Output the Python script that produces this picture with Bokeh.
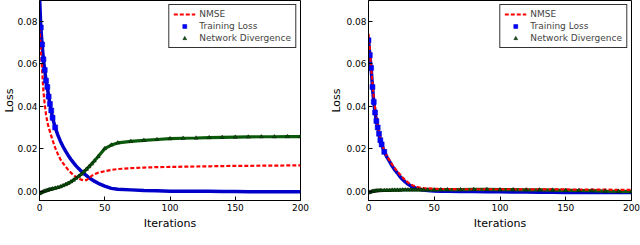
from bokeh.plotting import figure
from bokeh.layouts import row
from bokeh.models import Range1d, Legend, LegendItem, FixedTicker
from bokeh.embed import file_html
from bokeh.resources import INLINE

# ---------------- data ----------------
iters = [0, 1, 2, 3, 4, 5, 6, 7, 8, 9, 10, 12, 14, 16, 18, 20, 22, 24, 26, 28, 30,
         32, 34, 36, 38, 40, 42, 45, 50, 55, 60, 70, 80, 90, 100, 110, 120, 130,
         140, 150, 160, 170, 180, 190, 200]

# (a) left panel
a_nmse = [0.077, 0.066, 0.057, 0.047, 0.041, 0.036, 0.0325, 0.030, 0.028, 0.026, 0.024,
          0.0205, 0.0175, 0.015, 0.0132, 0.0115, 0.0100, 0.0087, 0.0076, 0.0066, 0.0059,
          0.0054, 0.0051, 0.0052, 0.0062, 0.0072, 0.0080, 0.0087, 0.0094, 0.0100, 0.0104,
          0.0108, 0.0111, 0.0113, 0.0114, 0.0115, 0.0116, 0.0117, 0.0118, 0.0119, 0.0119,
          0.0120, 0.0120, 0.0121, 0.0121]
a_train = [0.092, 0.077, 0.069, 0.062, 0.057, 0.052, 0.049, 0.0445, 0.041, 0.038, 0.0345,
           0.030, 0.0265, 0.0235, 0.021, 0.0188, 0.0168, 0.0150, 0.0134, 0.0119, 0.0106,
           0.0094, 0.0083, 0.0073, 0.0063, 0.0055, 0.0047, 0.0037, 0.0024, 0.0013, 0.0009,
           0.0006, 0.0003, 0.0002, 0.0000, 0.0000, -0.0001, -0.0001, -0.0002, -0.0002,
           -0.0003, -0.0003, -0.0003, -0.0003, -0.0003]
a_div = [-0.0012, -0.0008, -0.0005, -0.0002, 0.0000, 0.0002, 0.0004, 0.0006, 0.0008, 0.0009,
         0.0011, 0.0014, 0.0017, 0.0021, 0.0026, 0.0031, 0.0037, 0.0044, 0.0052, 0.0061,
         0.0070, 0.0080, 0.0091, 0.0103, 0.0115, 0.0128, 0.0142, 0.0163, 0.0200, 0.0217,
         0.0227, 0.0234, 0.0239, 0.0243, 0.0247, 0.0249, 0.0250, 0.0252, 0.0253, 0.0254,
         0.0255, 0.0256, 0.0256, 0.0257, 0.0257]

# (b) right panel
b_nmse = [0.074, 0.067, 0.058, 0.051, 0.044, 0.039, 0.035, 0.031, 0.028, 0.025, 0.0225,
          0.0190, 0.0165, 0.0145, 0.0125, 0.0108, 0.0092, 0.0078, 0.0064, 0.0052, 0.0041,
          0.0032, 0.0026, 0.0021, 0.0018, 0.0016, 0.0014, 0.0013, 0.0011, 0.0010, 0.0010,
          0.0009, 0.0009, 0.0009, 0.0009, 0.0009, 0.0008, 0.0008, 0.0008, 0.0008, 0.0007,
          0.0007, 0.0007, 0.0006, 0.0006]
b_train = [0.071, 0.064, 0.058, 0.049, 0.042, 0.037, 0.033, 0.030, 0.027, 0.024, 0.022,
           0.0185, 0.0160, 0.0140, 0.0118, 0.0100, 0.0085, 0.0068, 0.0055, 0.0043, 0.0033,
           0.0025, 0.0019, 0.0014, 0.0010, 0.0007, 0.0005, 0.0003, 0.0001, 0.0000, -0.0001,
           -0.0002, -0.0002, -0.0003, -0.0003, -0.0004, -0.0004, -0.0005, -0.0005, -0.0006,
           -0.0006, -0.0006, -0.0006, -0.0006, -0.0006]
b_div = [-0.0008, -0.0005, -0.0003, -0.0001, 0.0000, 0.0001, 0.0002, 0.0002, 0.0003, 0.0003,
         0.0003, 0.0004, 0.0004, 0.0004, 0.0005, 0.0005, 0.0005, 0.0005, 0.0006, 0.0006,
         0.0006, 0.0006, 0.0006, 0.0006, 0.0006, 0.0006, 0.0006, 0.0006, 0.0006, 0.0007,
         0.0007, 0.0007, 0.0008, 0.0008, 0.0007, 0.0007, 0.0006, 0.0006, 0.0005, 0.0004,
         0.0003, 0.0002, 0.0000, -0.0001, -0.0002]

x_ticks = [0, 50, 100, 150, 200]
y_ticks = [0.00, 0.02, 0.04, 0.06, 0.08]
y_labels = ["0.00", "0.02", "0.04", "0.06", "0.08"]

FONT = "DejaVu Sans"
RED = "#ff0000"
BLUE = "#0000ff"
BLUE_DARK = "#0000c8"
GREEN = "#0b5a0b"


def make_panel(nmse, train, div, width, border_left, border_right, label_standoff):
    p = figure(width=width, height=245, output_backend="svg", toolbar_location=None,
               x_range=Range1d(0, 200), y_range=Range1d(-0.0044, 0.0897),
               min_border_left=border_left, min_border_right=border_right,
               min_border_top=0, min_border_bottom=45)
    p.xgrid.visible = False
    p.ygrid.visible = False
    p.outline_line_color = "black"
    p.outline_line_width = 1
    p.background_fill_color = "white"
    p.border_fill_color = "white"

    # bands (dense markers in original)
    p.line(iters, train, line_color=BLUE_DARK, line_width=3.5)
    p.line(iters, div, line_color=GREEN, line_width=3.2)

    r_nmse = p.line(iters, nmse, line_color=RED, line_width=2.2, line_dash="4 2")
    r_sq = p.scatter(iters[:12], train[:12], marker="square", size=5, fill_color=BLUE,
                     line_color=BLUE_DARK, line_width=0.5)
    r_tri = p.scatter(iters, div, marker="triangle", size=4, fill_color=GREEN,
                      line_color="black", line_width=0.4)

    # legend-only glyph for training loss (dash-dot)
    r_tl_leg = p.line([], [], line_color=BLUE, line_width=2, line_dash="2 2")

    legend = Legend(items=[
        LegendItem(label="NMSE", renderers=[r_nmse]),
        LegendItem(label="Training Loss", renderers=[r_tl_leg, r_sq]),
        LegendItem(label="Network Divergence", renderers=[r_tri]),
    ], location="top_right")
    legend.margin = 4
    legend.padding = 4
    legend.spacing = 2
    legend.label_height = 10
    legend.glyph_height = 10
    legend.glyph_width = 22
    legend.label_standoff = 4
    legend.label_text_font = FONT
    legend.label_text_font_size = "9px"
    legend.border_line_color = "black"
    legend.border_line_width = 1
    legend.border_line_alpha = 0.8
    legend.background_fill_alpha = 1
    p.add_layout(legend, "center")

    for ax in (p.xaxis[0], p.yaxis[0]):
        ax.major_tick_in = 4
        ax.major_tick_out = 0
        ax.minor_tick_line_color = None
        ax.axis_line_color = "black"
        ax.major_label_text_font = FONT
        ax.major_label_text_font_size = "9px"
        ax.major_label_text_color = "black"
        ax.axis_label_text_font = FONT
        ax.axis_label_text_font_size = "11px"
        ax.axis_label_text_font_style = "normal"
        ax.axis_label_text_color = "black"

    p.xaxis.ticker = FixedTicker(ticks=x_ticks)
    p.xaxis.axis_label = "Iterations"
    p.xaxis.major_label_standoff = 3
    p.xaxis.axis_label_standoff = 3

    p.yaxis.ticker = FixedTicker(ticks=y_ticks)
    p.yaxis.major_label_overrides = {t: l for t, l in zip(y_ticks, y_labels)}
    p.yaxis.axis_label = "Loss"
    p.yaxis.major_label_standoff = 2
    p.yaxis.axis_label_standoff = label_standoff
    return p


p1 = make_panel(a_nmse, a_train, a_div, 320, 35, 20, -2)
p2 = make_panel(b_nmse, b_train, b_div, 320, 48, 9, 0)

layout = row(p1, p2)

open("out.html", "w").write(file_html(layout, INLINE))
